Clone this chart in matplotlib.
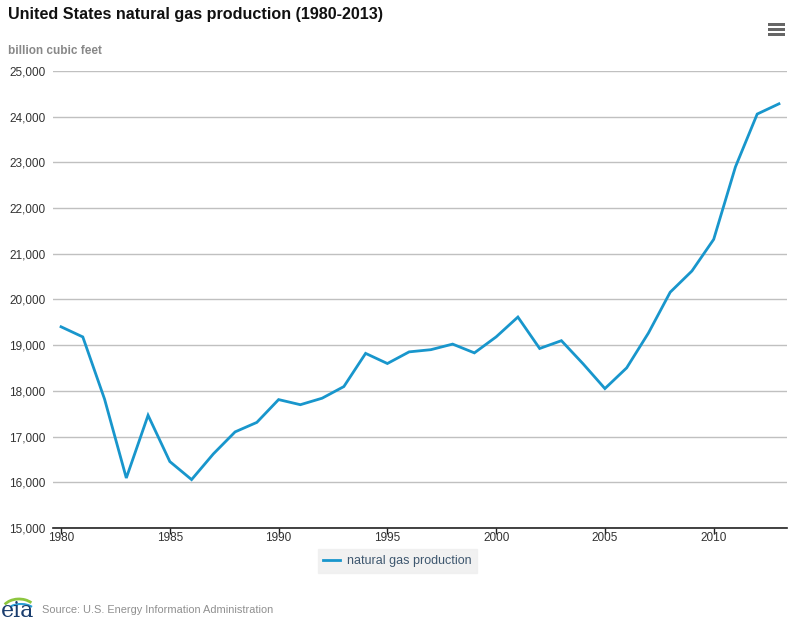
import matplotlib
matplotlib.use("Agg")
import matplotlib.pyplot as plt
from matplotlib.patches import Rectangle, Arc

years = list(range(1980, 2014))
production = [19403, 19181, 17820, 16094, 17466, 16454, 16059, 16621, 17103, 17311,
              17810, 17698, 17840, 18095, 18821, 18599, 18854, 18902, 19024, 18832,
              19182, 19616, 18928, 19099, 18591, 18051, 18504, 19266, 20159, 20624,
              21316, 22902, 24058, 24282]
yticks = [15000, 16000, 17000, 18000, 19000, 20000, 21000, 22000, 23000, 24000, 25000]
xticks = [1980, 1985, 1990, 1995, 2000, 2005, 2010]

W, H = 796, 631
fig = plt.figure(figsize=(W / 100, H / 100), dpi=100)
plt.rcParams['font.family'] = ['Liberation Sans', 'DejaVu Sans']

ax = fig.add_axes([53 / W, (H - 528) / H, (787 - 53) / W, (528 - 71) / H])
ax.plot(years, production, color='#1896cc', lw=2, solid_joinstyle='miter',
        label='natural gas production')
ax.set_xlim(1979.63, 2013.37)
ax.set_ylim(15000, 25000)
ax.set_yticks(yticks)
ax.set_yticklabels([f"{v:,}" for v in yticks], fontsize=8.5, color='#333333')
ax.set_xticks(xticks)
ax.set_xticklabels([str(x) for x in xticks], fontsize=8.5, color='#333333')
ax.tick_params(axis='y', length=0, pad=5.5)
ax.tick_params(axis='x', length=4, width=1, color='#222222', pad=-1)
ax.grid(axis='y', color='#c0c0c0', lw=1)
ax.set_axisbelow(True)
for s in ['top', 'right', 'left']:
    ax.spines[s].set_visible(False)
ax.spines['bottom'].set_color('#222222')
ax.spines['bottom'].set_linewidth(1.2)

leg = ax.legend(loc='center', bbox_to_anchor=(397.5 / W, (H - 561) / H),
                bbox_transform=fig.transFigure, frameon=True, fontsize=9,
                handlelength=1.3, handletextpad=0.6, borderpad=0.45, fancybox=False)
leg.get_frame().set_facecolor('#eeeeee')
leg.get_frame().set_edgecolor('#eeeeee')
for t in leg.get_texts():
    t.set_color('#3e576f')

fig.text(8 / W, 1 - 15 / H, 'United States natural gas production (1980-2013)',
         fontsize=11.6, fontweight='bold', color='#111111', va='center', ha='left')
fig.text(8 / W, 1 - 51 / H, 'billion cubic feet', fontsize=8.5, fontweight='bold',
         color='#888888', va='center', ha='left')
fig.text(42 / W, 1 - 610 / H, 'Source: U.S. Energy Information Administration',
         fontsize=7.9, color='#909090', va='center', ha='left')

# menu icon
for yy in [23.5, 28.5, 33.5]:
    fig.patches.append(Rectangle((768 / W, 1 - (yy + 2.3) / H), 17 / W, 2.3 / H,
                                 transform=fig.transFigure, color='#666666', lw=0))

# eia logo
fig.text(1 / W, 1 - 611 / H, 'eia', fontsize=16, family='DejaVu Serif',
         color='#1a3d6e', va='center', ha='left')
fig.patches.append(Arc((19 / W, 1 - 611 / H), 34 / W, 24 / H, theta1=40, theta2=150,
                       transform=fig.transFigure, color='#8dc63f', lw=2))
fig.patches.append(Arc((21 / W, 1 - 613 / H), 30 / W, 18 / H, theta1=35, theta2=140,
                       transform=fig.transFigure, color='#2a9fd6', lw=1.5))

fig.savefig('out.png', dpi=100, facecolor='white')
